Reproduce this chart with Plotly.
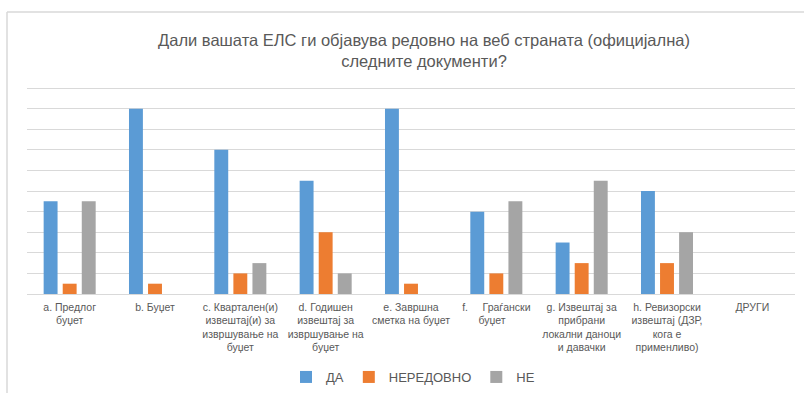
import plotly.graph_objects as go

# Document categories (x axis tick labels, wrapped)
categories = [
    "a. Предлог<br>буџет",
    "b. Буџет",
    "c. Квартален(и)<br>извештај(и) за<br>извршување на<br>буџет",
    "d. Годишен<br>извештај за<br>извршување на<br>буџет",
    "e. Завршна<br>сметка на буџет",
    "f.\u00a0\u00a0\u00a0\u00a0\u00a0Граѓански<br>\u00a0\u00a0\u00a0\u00a0\u00a0\u00a0буџет\u00a0\u00a0\u00a0\u00a0\u00a0\u00a0\u00a0\u00a0\u00a0",
    "g. Извештај за<br>прибрани<br>локални даноци<br>и давачки",
    "h. Ревизорски<br>извештај (ДЗР,<br>кога е<br>применливо)",
    "ДРУГИ",
]

# Number of responses per answer
da = [9, 18, 14, 11, 18, 8, 5, 10, 0]
neredovno = [1, 1, 2, 6, 1, 2, 3, 3, 0]
ne = [9, 0, 3, 2, 0, 9, 11, 6, 0]

series_names = ["ДА", "НЕРЕДОВНО", "НЕ"]
series_colors = ["#5B9BD5", "#ED7D31", "#A5A5A5"]

fig = go.Figure()
for name, vals, col in zip(series_names, [da, neredovno, ne], series_colors):
    fig.add_trace(go.Bar(x=categories, y=vals, name=name, marker_color=col,
                         marker_line_width=0))

W, H = 804, 393
ml, mr, mt, mb = 27, 9, 85, 99
pw, ph = W - ml - mr, H - mt - mb


def px_x(p):
    return (p - ml) / pw


def px_y(p):
    return (H - mb - p) / ph


border = "#d9d9d9"
fig.update_layout(
    width=W, height=H,
    margin=dict(l=ml, r=mr, t=mt, b=mb, autoexpand=False),
    paper_bgcolor="white", plot_bgcolor="white",
    font=dict(family="Liberation Sans, Arial, sans-serif", color="#595959"),
    title=dict(
        text="Дали вашата ЕЛС ги објавува редовно на веб страната (официјална)<br>следните документи?",
        x=424 / W, xanchor="center", xref="container",
        y=1 - 46 / H, yanchor="top", yref="container",
        font=dict(size=16.5, color="#595959"),
    ),
    barmode="group", bargap=0.33, bargroupgap=0.27,
    showlegend=True,
    legend=dict(orientation="h", x=px_x(413), xanchor="center",
                y=px_y(377), yanchor="middle",
                font=dict(size=13, color="#595959"),
                itemwidth=30, tracegroupgap=0),
    xaxis=dict(showgrid=False, showline=False, ticks="",
               ticklabelstandoff=5,
               tickfont=dict(size=10.5, color="#595959"), tickangle=0),
    yaxis=dict(range=[0, 20.3], tickvals=list(range(0, 21, 2)),
               showgrid=True, gridcolor=border,
               gridwidth=1, zeroline=True, zerolinecolor=border,
               zerolinewidth=1, showticklabels=False, ticks=""),
    shapes=[
        dict(type="line", xref="paper", yref="paper",
             x0=px_x(7), x1=px_x(7), y0=px_y(12), y1=px_y(393),
             line=dict(color=border, width=1.5)),
        dict(type="line", xref="paper", yref="paper",
             x0=px_x(7), x1=px_x(810), y0=px_y(12), y1=px_y(12),
             line=dict(color=border, width=1.5)),
    ],
)

fig.write_html("out.html")
